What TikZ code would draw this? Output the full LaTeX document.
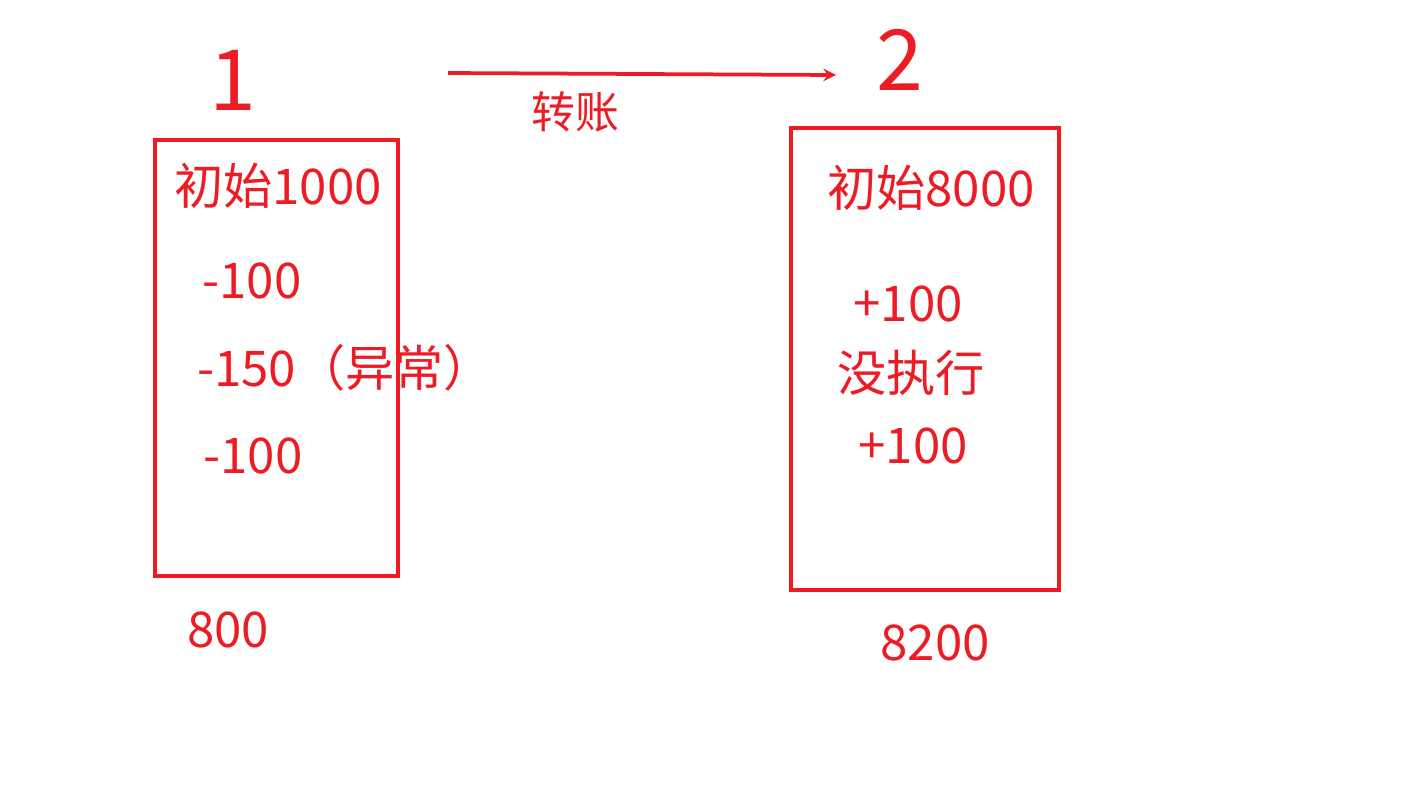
\documentclass[tikz,border=0pt]{standalone}
\usepackage{fontspec}
\setmainfont{Noto Sans CJK SC}
\definecolor{hongse}{RGB}{237,28,36}
\tikzset{
  txt/.style={text=hongse,inner sep=0pt,font=\fontsize{28}{30}\selectfont},
  big/.style={text=hongse,inner sep=0pt,font=\fontsize{48}{52}\selectfont},
  kuang/.style={draw=hongse,line width=0.075cm}
}
\begin{document}
\begin{tikzpicture}[x=0.02cm,y=-0.02cm]
\useasboundingbox (0,0) rectangle (1404,789);
\path node (one) at (233,80) [big] {1}
      node (two) at (900,60) [big] {2}
      node (zz) at (575,112) [txt,font=\fontsize{25}{27}\selectfont] {转账}
      node (a0) at (278,186) [txt] {初始1000}
      node (a1) at (252,281) [txt] {-100}
      node (a2) at (345,368) [txt] {-150（异常）}
      node (a3) at (253,456) [txt] {-100}
      node (asum) at (228,630) [txt] {800}
      node (b0) at (931,188) [txt] {初始8000}
      node (b1) at (908,304) [txt] {+100}
      node (b2) at (911,373) [txt] {没执行}
      node (b3) at (913,446) [txt] {+100}
      node (bsum) at (935,643) [txt] {8200};
\coordinate (s) at (448,73);
\coordinate (t) at (836,75);
\draw [kuang] (155,140) rectangle (398,576);
\draw [kuang] (791,128) rectangle (1059,590);
\draw [->,hongse,line width=0.075cm,>=stealth] (s) to (t);
\end{tikzpicture}
\end{document}
